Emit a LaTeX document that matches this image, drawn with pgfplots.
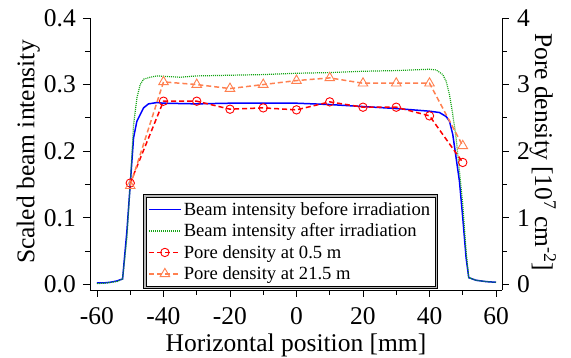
\documentclass[border=0pt]{standalone}
\usepackage{fontspec}
\setmainfont{Liberation Serif}
\usepackage{pgfplots}
\pgfplotsset{compat=1.18}

\definecolor{bblue}{RGB}{0,0,255}
\definecolor{ggreen}{RGB}{20,165,20}
\definecolor{rred}{RGB}{255,0,0}
\definecolor{oorange}{RGB}{255,128,80}

\pgfplotsset{
 common/.style={
  width=412pt, height=272pt, scale only axis,
  xmin=-62.1, xmax=61.8,
  /pgf/number format/assume math mode=true,
  tick align=outside,
  major tick length=7pt, minor tick length=5pt,
  tick style={black, line width=0.8pt},
  axis line style={-, line width=0.8pt},
  ticklabel style={font=\fontsize{25.5}{30}\selectfont},
 },
 legend image code/.code={\draw[mark repeat=2,mark phase=2] plot coordinates {(0cm,0cm) (0.55cm,0cm) (1.1cm,0cm)};},
 bluestyle/.style={draw=bblue, line width=1.5pt, solid},
 greenstyle/.style={draw=ggreen, line width=1.2pt, dash pattern=on 1pt off 1pt},
 redstyle/.style={rred, line width=1.5pt, dash pattern=on 5pt off 3pt, mark=o, mark size=4.2pt, mark options={solid, line width=0.9pt}},
 orangestyle/.style={oorange, line width=1.5pt, dash pattern=on 5pt off 3pt, mark=triangle, mark size=5.5pt, mark options={solid, line width=0.9pt}},
}

\begin{document}
\begin{tikzpicture}
\begin{axis}[common,
 axis x line*=bottom, axis y line*=left,
 ymin=-0.0086, ymax=0.4,
 xtick={-60,-40,-20,0,20,40,60}, minor xtick={-50,-30,-10,10,30,50},
 ytick={0,0.1,0.2,0.3,0.4}, minor ytick={0.05,0.15,0.25,0.35},
 yticklabel style={/pgf/number format/fixed, /pgf/number format/fixed zerofill, /pgf/number format/precision=1, inner sep=0pt, xshift=-7pt},
 xticklabel style={inner sep=0pt, yshift=-10pt},
 xlabel={Horizontal position [mm]},
 ylabel={Scaled beam intensity},
 every axis y label/.style={at={(axis description cs:-0.15,0.507)}, anchor=center, rotate=90, font=\fontsize{25.5}{30}\selectfont},
 every axis x label/.style={at={(axis description cs:0.5,-0.202)}, anchor=center, font=\fontsize{25.5}{30}\selectfont},
 legend cell align=left,
 legend style={at={(0.129,0.004)}, anchor=south west, font=\fontsize{18.6}{21}\selectfont,
   fill=white, draw=black, line width=0.7pt, name=leg,
   inner sep=5pt, nodes={inner sep=2.5pt}, row sep=2pt},
]
\addplot[bluestyle, forget plot] coordinates {
(-60,0.002) (-58,0.002) (-56,0.003) (-54,0.005) (-52.3,0.008) (-51,0.08) (-50,0.15)
(-49,0.22) (-48,0.245) (-47,0.255) (-46,0.265) (-44.5,0.271) (-42,0.273) (-40,0.272)
(-30,0.271) (-20,0.272) (-10,0.272) (0,0.272) (10,0.270) (20,0.267) (30,0.264)
(40,0.260) (43,0.258) (45,0.252) (46,0.245) (47,0.225) (48,0.19) (49,0.155)
(50,0.10) (51,0.04) (51.8,0.010) (54,0.006) (57,0.004) (60,0.003)};
\addplot[greenstyle, forget plot] coordinates {
(-60,0.001) (-57,0.002) (-54,0.004) (-52.3,0.008) (-51,0.07) (-50,0.15) (-49,0.24)
(-48,0.28) (-47,0.30) (-46,0.308) (-44,0.311) (-42,0.313) (-35,0.311) (-30,0.313)
(-20,0.314) (-10,0.315) (0,0.317) (10,0.318) (20,0.320) (30,0.321) (40,0.323)
(42,0.322) (44,0.315) (45,0.305) (46,0.285) (47,0.255) (48,0.22) (49,0.17)
(50,0.12) (51,0.05) (51.8,0.01) (54,0.006) (57,0.004) (60,0.003)};
\addlegendimage{bluestyle}
\addlegendentry{Beam intensity before irradiation}
\addlegendimage{greenstyle}
\addlegendentry{Beam intensity after irradiation}
\addlegendimage{redstyle}
\addlegendentry{Pore density at 0.5 m}
\addlegendimage{orangestyle}
\addlegendentry{Pore density at 21.5 m}
\end{axis}
\draw[gray!55, line width=2pt] ([shift={(1.6pt,1.6pt)}]leg.south west) rectangle ([shift={(-1.6pt,-1.6pt)}]leg.north east);
\draw[black, line width=0.7pt] ([shift={(3pt,3pt)}]leg.south west) rectangle ([shift={(-3pt,-3pt)}]leg.north east);
\begin{axis}[common,
 axis x line=none, axis y line*=right,
 ymin=-0.086, ymax=4,
 ytick={0,1,2,3,4}, minor ytick={0.5,1.5,2.5,3.5},
 yticklabel style={inner sep=0pt, xshift=8pt},
 ylabel={Pore density [10\textsuperscript{7} cm\textsuperscript{-2}]},
 every axis y label/.style={at={(axis description cs:1.099,0.507)}, anchor=center, rotate=-90, font=\fontsize{25.5}{30}\selectfont},
]
\addplot[redstyle] coordinates {
(-50,1.52) (-40,2.75) (-30,2.75) (-20,2.63) (-10,2.65) (0,2.62)
(10,2.74) (20,2.66) (30,2.66) (40,2.53) (50,1.83)};
\addplot[orangestyle] coordinates {
(-50,1.48) (-40,3.04) (-30,3.00) (-20,2.94) (-10,3.00) (0,3.06)
(10,3.10) (20,3.02) (30,3.02) (40,3.02) (50,2.08)};
\end{axis}
\pgfresetboundingbox
\path[use as bounding box] (-90pt,-68pt) rectangle (481pt,290pt);
\end{tikzpicture}
\end{document}
